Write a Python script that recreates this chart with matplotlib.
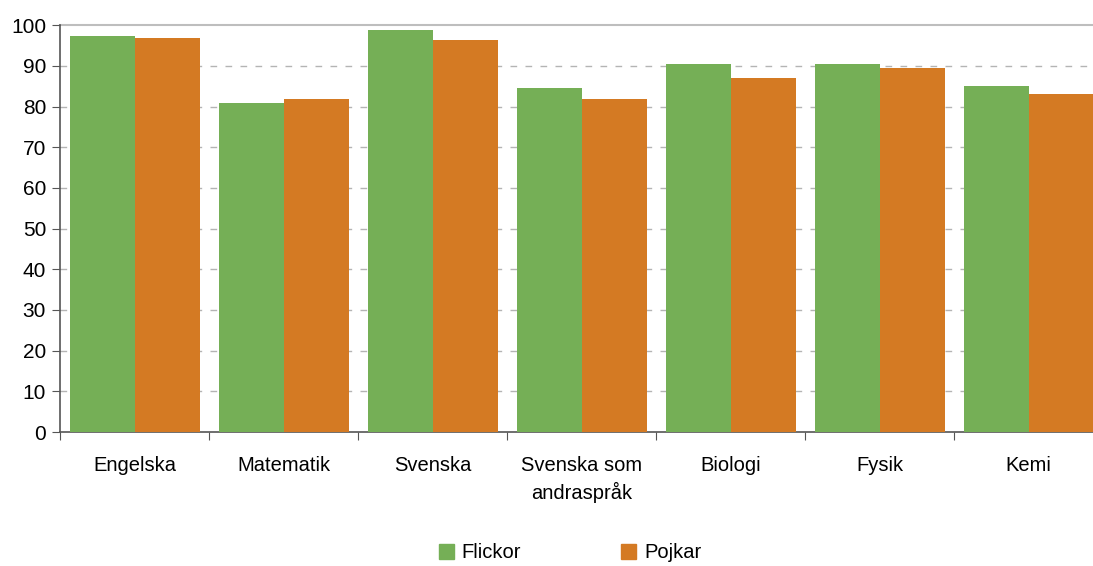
import numpy as np
import matplotlib
matplotlib.use("Agg")
import matplotlib.pyplot as plt
from matplotlib.patches import Patch

plt.rcParams['font.family'] = ['Liberation Sans', 'DejaVu Sans']

# data
categories = ["Engelska", "Matematik", "Svenska", "Svenska som\nandraspråk",
              "Biologi", "Fysik", "Kemi"]
flickor = [97.4, 80.8, 98.9, 84.6, 90.5, 90.5, 85.1]
pojkar = [96.9, 81.8, 96.4, 81.8, 87.0, 89.5, 83.2]
series_names = ["Flickor", "Pojkar"]

GREEN = "#75AF56"
ORANGE = "#D47A23"

fig = plt.figure(figsize=(10.93, 5.66), dpi=100)
ax = fig.add_axes([60 / 1093, 1 - 432 / 566, 1043 / 1093, (432 - 25.3) / 566])

x = np.arange(len(categories))
w = 0.436
ax.bar(x - w / 2 + 0.003, flickor, width=w, color=GREEN, zorder=3)
ax.bar(x + w / 2 + 0.003, pojkar, width=w, color=ORANGE, zorder=3)

ax.set_xlim(-0.5, len(categories) - 0.5)
ax.set_ylim(0, 100)
ax.set_yticks(np.arange(0, 101, 10))

# dashed gridlines, solid line at the top
for v in range(10, 100, 10):
    ax.axhline(v, color="#B4B4B4", lw=1, ls=(0, (4.8, 6)), zorder=1)
ax.axhline(100, color="#BEBEBE", lw=1.5, zorder=1, clip_on=False)

for s in ["top", "right"]:
    ax.spines[s].set_visible(False)
ax.spines["left"].set_color("#555555")
ax.spines["bottom"].set_color("#555555")
ax.spines["left"].set_linewidth(1.2)
ax.spines["bottom"].set_linewidth(1.2)

# major x ticks between categories, labels on minor ticks
ax.set_xticks(np.arange(-0.5, len(categories), 1))
ax.set_xticklabels([])
ax.set_xticks(x, minor=True)
ax.set_xticklabels(categories, minor=True, linespacing=1.45)
ax.tick_params(axis="x", which="minor", length=0, pad=17, labelsize=14.5)
ax.tick_params(axis="x", which="major", length=6, color="#555555", direction="out")
ax.tick_params(axis="y", length=6, color="#555555", labelsize=15, pad=4)

handles = [Patch(color=GREEN, label=series_names[0]),
           Patch(color=ORANGE, label=series_names[1])]
fig.legend(handles=handles, loc="center", bbox_to_anchor=(0.5215, 0.023), ncol=2,
           frameon=False, fontsize=14.5, handlelength=0.75, handleheight=0.75,
           handletextpad=0.4, columnspacing=4.95)

fig.savefig("out.png", dpi=100)
